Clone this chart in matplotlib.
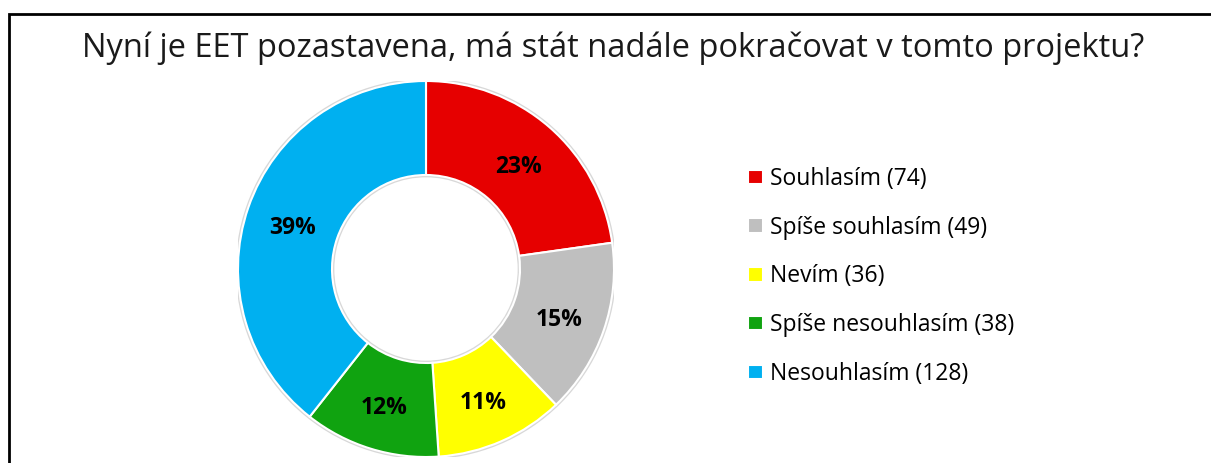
import matplotlib.pyplot as plt
from matplotlib.patches import Rectangle, Circle

plt.rcParams['font.family'] = ['Open Sans', 'DejaVu Sans']

categories = ["Souhlasím", "Spíše souhlasím", "Nevím", "Spíše nesouhlasím", "Nesouhlasím"]
counts = [74, 49, 36, 38, 128]
colors = ["#E60000", "#BFBFBF", "#FFFF00", "#10A310", "#00B0F0"]
title = "Nyní je EET pozastavena, má stát nadále pokračovat v tomto projektu?"

W, H = 1211, 463
fig = plt.figure(figsize=(W / 100, H / 100), dpi=100)
fig.patch.set_facecolor("white")

# frame of the chart area (bottom and right edges are cut off in the picture)
fig.add_artist(Rectangle((9 / W, -0.1), 1.2, (H - 14) / H + 0.1,
                         transform=fig.transFigure, fill=False,
                         edgecolor="black", linewidth=2.0))

fig.text(613 / W, 1 - 48 / H, title, ha="center", va="center", fontsize=23.5, color="#1a1a1a")

# donut, centre at (426, 269) px, outer radius ~188 px
cx, cy, r = 426, 269, 188
ax = fig.add_axes([(cx - r) / W, (H - cy - r) / H, 2 * r / W, 2 * r / H])
# faint grey outline like the soft shadow round the ring
ax.add_patch(Circle((0, 0), 1.005, facecolor="none", edgecolor="#d8d8d8", linewidth=2.0))
ax.add_patch(Circle((0, 0), 0.495, facecolor="none", edgecolor="#d8d8d8", linewidth=2.0))
wedges, texts, autotexts = ax.pie(
    counts, colors=colors, startangle=90, counterclock=False, radius=1,
    wedgeprops=dict(width=0.5, edgecolor="white", linewidth=1.5),
    autopct=lambda p: f"{p:.0f}%", pctdistance=0.75,
    textprops=dict(fontsize=16.5, fontweight="bold", color="black"))
for t in autotexts:
    x, y = t.get_position()
    t.set_position((x, y - 0.025))
ax.set_xlim(-1.0, 1.0)
ax.set_ylim(-1.0, 1.0)
ax.set_aspect("equal")
ax.axis("off")

labels = [f"{c} ({n})" for c, n in zip(categories, counts)]
fig.legend(wedges, labels, loc="upper left", bbox_to_anchor=(748 / W, 1 - 167 / H),
           frameon=False, fontsize=16.5, handlelength=0.65, handleheight=0.6,
           handletextpad=0.33, labelspacing=1.08, borderpad=0, borderaxespad=0)

fig.savefig("out.png", dpi=100)
